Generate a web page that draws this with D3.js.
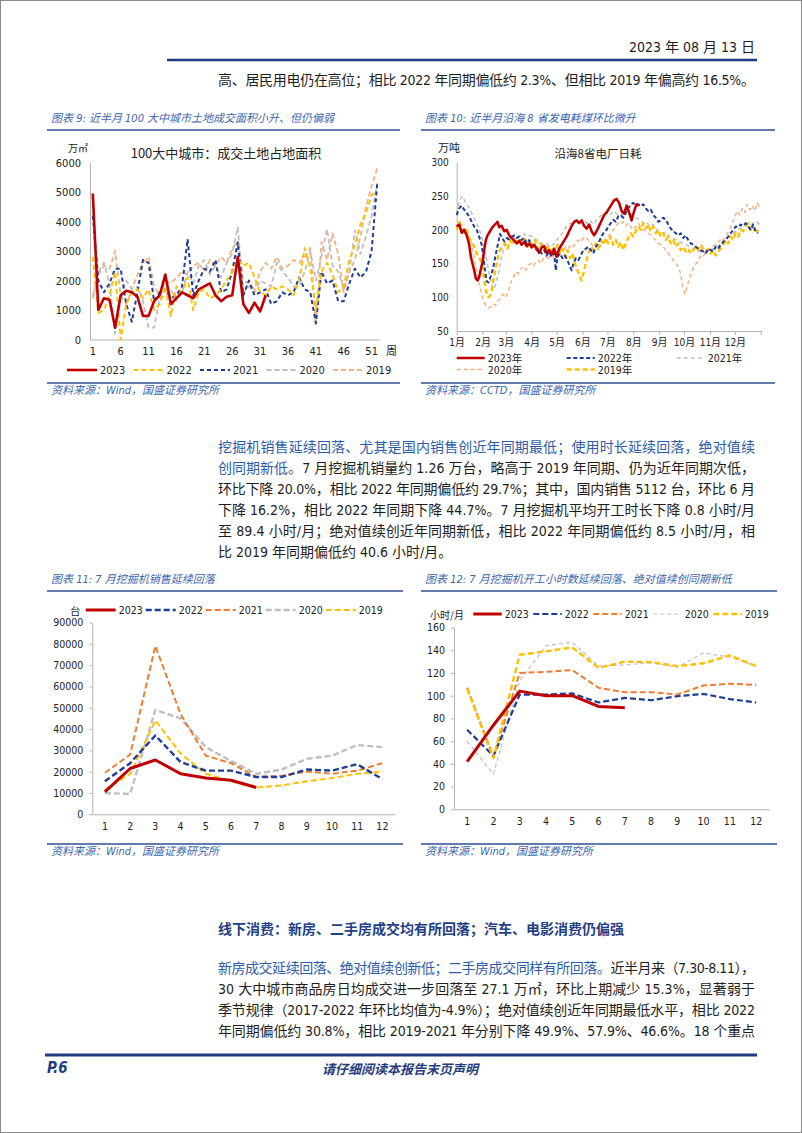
<!DOCTYPE html>
<html><head><meta charset="utf-8">
<script src="https://cdn.jsdelivr.net/npm/d3@7"></script>
<style>
body{margin:0;background:#fff;}
#page{position:relative;width:802px;height:1133px;overflow:hidden;background:#fff;}
#svg{position:absolute;left:0;top:0;}
.ln{position:absolute;height:21px;line-height:21px;font-size:14px;color:#1e1e1e;white-space:nowrap;
  font-family:"DejaVu Sans Condensed","Liberation Sans","Noto Sans CJK SC",sans-serif;}
.hl{color:#2f5ca8;}
</style></head>
<body><div id="page"><svg id="svg" width="802" height="1133"></svg></div>
<script>
// ===================== DATA =====================
// Chart 9: 100 large/medium cities land transaction area (万㎡), weekly
const weeks = d3.range(1, 53);
const weekTicks = [1,6,11,16,21,26,31,36,41,46,51];
const land2023 = [4950,1000,1400,1350,400,1500,1650,1600,1450,800,800,1300,1500,2200,1200,1400,1600,1500,1400,1700,1800,1900,1500,1300,1450,1500,2800,1200,900,1250,950,1500];
const land2022 = [2800,900,1000,1500,2300,0,1200,1600,1700,1400,1700,1000,1200,1800,800,1800,1600,2100,1000,1600,1700,1400,1500,1700,2000,2300,2700,2500,2600,2100,1600,1500,1800,1700,1800,1700,1500,2000,3100,2400,1000,2300,2600,2200,1600,1800,2700,3200,3900,4300,4900,5000];
const land2021 = [4200,2000,1600,1900,2400,2400,1200,600,1600,2700,2600,1300,1600,1700,1400,1500,1800,3400,1500,2000,2400,2300,2700,1600,1700,2300,3300,1500,2000,1500,1600,1700,1200,1300,1600,1500,1600,2100,1700,1600,550,2300,1900,2000,1300,1300,1900,2400,2100,2300,3000,5300];
const land2020 = [1500,2300,2600,1900,200,1500,2000,1700,1800,1300,400,400,1400,1500,1700,1300,1600,2300,1900,2500,2700,2200,2500,2100,2600,2900,3800,1600,1800,1600,2000,1900,1800,2600,2300,2100,1800,1800,2300,3000,2000,2800,3750,2500,2300,1700,2300,3700,2900,3500,4200,5300];
const land2019 = [1400,2200,2500,2400,3000,1500,1200,1700,2200,2600,2800,1800,1500,2000,1900,2100,2300,2200,2500,2600,2300,2700,2500,2800,2600,3100,3300,2000,1900,1700,2300,2600,2400,2800,2400,2500,2700,2600,2800,3100,500,3300,2700,3600,2900,1600,2300,2700,3500,4500,5200,5800];
const landTicks = [0,1000,2000,3000,4000,5000,6000];

// Chart 10: coastal 8 provinces power plant daily coal use (万吨), [day of year, value]
const monthLabels = ["1月","2月","3月","4月","5月","6月","7月","8月","9月","10月","11月","12月"];
const monthStartDays = [0,31,59,90,120,151,181,212,243,273,304,334];
const coalTicks = [50,100,150,200,250,300];
const coal2023 = [[0,205],[3,208],[6,196],[9,200],[12,192],[15,178],[17,160],[19,150],[21,140],[23,128],[25,125],[27,130],[29,142],[31,152],[33,170],[35,185],[37,192],[40,198],[43,204],[46,208],[49,212],[51,204],[54,206],[57,198],[60,200],[63,192],[66,188],[69,184],[72,180],[75,184],[78,178],[81,182],[84,176],[87,180],[90,174],[93,178],[96,172],[99,166],[102,174],[105,176],[108,166],[111,170],[114,164],[117,172],[120,160],[123,172],[126,178],[129,184],[132,190],[135,198],[138,206],[141,212],[144,214],[147,210],[150,214],[153,206],[156,202],[159,208],[162,198],[165,192],[168,198],[171,206],[174,214],[177,222],[180,226],[183,232],[186,238],[189,244],[192,246],[195,240],[198,228],[201,224],[204,236],[207,226],[210,214],[213,228],[216,238],[219,236]];
const coal2022 = [[0,222],[3,232],[6,236],[9,230],[12,225],[15,220],[18,212],[21,205],[24,200],[27,190],[30,178],[32,160],[34,140],[36,124],[38,122],[40,128],[42,135],[44,145],[46,158],[48,170],[50,182],[52,194],[54,190],[57,183],[60,188],[63,186],[66,190],[69,192],[72,188],[75,190],[78,185],[81,188],[84,180],[87,185],[90,178],[93,175],[96,170],[99,172],[102,165],[105,170],[108,162],[111,168],[114,160],[117,165],[119,140],[121,160],[124,165],[127,158],[130,162],[133,155],[136,145],[138,140],[140,150],[143,158],[146,155],[149,162],[152,170],[155,172],[158,175],[161,170],[164,165],[167,175],[170,180],[173,188],[176,195],[179,198],[182,205],[185,210],[188,215],[191,212],[194,220],[197,222],[200,218],[203,225],[206,232],[209,238],[212,240],[215,236],[218,238],[221,235],[224,238],[227,232],[230,228],[233,230],[236,222],[239,218],[242,212],[245,214],[248,218],[251,215],[254,208],[257,202],[260,198],[263,195],[266,192],[269,195],[272,188],[275,192],[278,185],[281,180],[284,178],[287,175],[290,172],[293,170],[296,168],[299,165],[302,172],[305,170],[308,168],[311,175],[314,172],[317,178],[320,182],[323,185],[326,190],[329,195],[332,200],[335,205],[338,204],[341,208],[344,206],[347,210],[350,205],[353,200],[356,208],[359,198],[362,195]];
const coal2021 = [[0,225],[4,245],[7,250],[10,242],[14,235],[18,225],[22,215],[26,205],[30,190],[33,175],[36,155],[39,135],[42,118],[45,112],[48,125],[51,140],[54,160],[57,175],[60,185],[64,190],[68,188],[72,192],[76,190],[80,195],[84,190],[88,192],[92,188],[96,185],[100,182],[104,178],[108,180],[112,175],[116,178],[120,185],[124,190],[128,198],[132,205],[136,210],[140,208],[144,214],[148,212],[152,216],[156,210],[160,214],[164,208],[168,215],[172,220],[176,224],[180,226],[184,222],[188,228],[192,224],[196,220],[200,226],[204,230],[208,225],[212,220],[216,218],[220,215],[224,210],[228,212],[232,205],[236,208],[240,200],[244,198],[248,195],[252,196],[256,190],[260,188],[264,185],[268,182],[272,180],[276,178],[280,175],[284,172],[288,170],[292,168],[296,165],[300,168],[304,170],[308,172],[312,175],[316,178],[320,182],[324,188],[328,192],[332,195],[336,200],[340,202],[344,205],[348,208],[352,206],[356,210],[360,212],[364,208]];
const coal2020 = [[0,200],[4,210],[8,205],[12,195],[16,185],[20,165],[23,145],[26,125],[29,110],[32,95],[35,88],[38,84],[41,86],[44,90],[47,88],[50,95],[53,100],[56,105],[59,100],[62,110],[65,122],[68,130],[71,138],[74,135],[77,142],[80,145],[83,140],[86,148],[89,150],[92,146],[95,152],[98,155],[101,150],[104,158],[107,162],[110,155],[113,165],[116,160],[119,168],[122,165],[125,170],[128,168],[131,175],[134,172],[137,178],[140,175],[143,180],[146,185],[149,182],[152,188],[155,190],[158,185],[161,180],[164,175],[167,178],[170,172],[173,176],[176,182],[179,185],[182,190],[185,195],[188,200],[191,205],[194,210],[197,208],[200,212],[203,206],[206,210],[209,204],[212,200],[215,205],[218,210],[221,205],[224,200],[227,198],[230,195],[233,192],[236,188],[239,185],[242,180],[245,178],[248,175],[251,170],[254,165],[257,160],[260,155],[263,150],[266,145],[269,135],[271,118],[274,105],[277,118],[280,130],[283,140],[286,148],[289,152],[292,160],[295,158],[298,165],[301,168],[304,170],[307,175],[310,178],[313,180],[316,185],[319,182],[322,190],[325,195],[328,200],[331,210],[334,220],[337,228],[340,222],[343,232],[346,226],[349,238],[352,230],[355,236],[358,228],[361,240],[364,232]];
const coal2019 = [[0,200],[3,212],[6,205],[9,195],[12,200],[15,188],[18,182],[21,175],[24,165],[27,160],[30,150],[32,135],[34,118],[36,105],[38,100],[40,102],[42,110],[44,125],[46,138],[48,150],[50,162],[52,170],[55,175],[58,180],[61,172],[64,185],[67,178],[70,188],[73,180],[76,185],[79,178],[82,186],[85,175],[88,182],[91,178],[94,185],[97,172],[100,180],[103,175],[106,170],[109,178],[112,165],[115,175],[118,168],[121,178],[124,165],[127,172],[130,160],[133,170],[136,158],[139,165],[142,150],[145,140],[148,130],[150,125],[152,135],[155,150],[158,165],[161,175],[164,170],[167,180],[170,172],[173,185],[176,178],[179,188],[182,180],[185,190],[188,178],[191,185],[194,175],[197,182],[200,170],[203,180],[206,188],[209,195],[212,190],[215,198],[218,205],[221,200],[224,210],[227,202],[230,208],[233,198],[236,205],[239,195],[242,200],[245,190],[248,195],[251,185],[254,190],[257,180],[260,185],[263,175],[266,180],[269,170],[272,175],[275,168],[278,172],[281,165],[284,170],[287,175],[290,170],[293,178],[296,172],[299,168],[302,172],[305,165],[308,170],[311,162],[314,168],[317,172],[320,178],[323,185],[326,180],[329,190],[332,185],[335,195],[338,190],[341,200],[344,198],[347,205],[350,210],[353,200],[356,205],[359,195],[362,200]];

// Chart 11: excavator sales (台), monthly
const months = [1,2,3,4,5,6,7,8,9,10,11,12];
const salesTicks = [0,10000,20000,30000,40000,50000,60000,70000,80000,90000];
const sales2023 = [10500,21500,25500,19000,17000,16000,12600];
const sales2022 = [15500,24000,37000,24500,20500,20500,17500,17500,21000,20500,23500,16500];
const sales2021 = [19500,28000,79000,47000,27500,24000,17500,18000,20000,19000,20500,24000];
const sales2020 = [10000,9500,49000,45000,31500,25000,19000,21000,26000,27500,32500,31500];
const sales2019 = [11500,19000,44000,28500,19000,15500,12500,13500,15500,17000,19000,20000];

// Chart 12: excavator working hours (小时/月), monthly
const hoursTicks = [0,20,40,60,80,100,120,140,160];
const hours2023 = [42,74,104,100,100,90.5,89.4];
const hours2022 = [70,47,101,101,102,94,98,96,99.5,101.5,97,94];
const hours2021 = [107,46,120,121,122.5,107,103,103,101,109,110.5,109.5];
const hours2020 = [60,31,113,144,147,126,127,129,125,137.5,134,126];
const hours2019 = [106,45,136,139,142.5,124.5,130,129.5,126,128.5,135.5,126];

// ===================== TEXT =====================
const headerDate = "2023 年 08 月 13 日";
const introLines = [[["高、居民用电仍在高位；相比 2022 年同期偏低约 2.3%、但相比 2019 年偏高约 16.5%。",0]]];
const para2 = [
 [["挖掘机销售延续回落、尤其是国内销售创近年同期最低；使用时长延续回落，绝对值续",1]],
 [["创同期新低。",1],["7 月挖掘机销量约 1.26 万台，略高于 2019 年同期、仍为近年同期次低，",0]],
 [["环比下降 20.0%，相比 2022 年同期偏低约 29.7%；其中，国内销售 5112 台，环比 6 月",0]],
 [["下降 16.2%，相比 2022 年同期下降 44.7%。7 月挖掘机平均开工时长下降 0.8 小时/月",0]],
 [["至 89.4 小时/月；绝对值续创近年同期新低，相比 2022 年同期偏低约 8.5 小时/月，相",0]],
 [["比 2019 年同期偏低约 40.6 小时/月。",0]]
];
const heading = "线下消费：新房、二手房成交均有所回落；汽车、电影消费仍偏强";
const para3 = [
 [["新房成交延续回落、绝对值续创新低；二手房成交同样有所回落。",1],["近半月来（7.30-8.11），",0]],
 [["30 大中城市商品房日均成交进一步回落至 27.1 万㎡，环比上期减少 15.3%，显著弱于",0]],
 [["季节规律（2017-2022 年环比均值为-4.9%）；绝对值续创近年同期最低水平，相比 2022",0]],
 [["年同期偏低约 30.8%，相比 2019-2021 年分别下降 49.9%、57.9%、46.6%。18 个重点",0]]
];

// ===================== RENDER =====================
const FONT_NUM = '"DejaVu Sans Condensed","Liberation Sans","Noto Sans CJK SC",sans-serif';
const FONT_CJK = '"Noto Sans CJK SC",sans-serif';
const NAVY = '#1f3d7e';
const TBLUE = '#3b66b0';
const COL = {red:'#c00000', gold:'#ffc000', navy:'#1f3c96', gray:'#bfbfbf', salmon:'#f4b183', orange:'#ed7d31'};
const fmtInt = d3.format('d');

const svg = d3.select('#svg');
svg.append('rect').attr('x',0.5).attr('y',0.5).attr('width',801).attr('height',1132)
  .attr('fill','none').attr('stroke','#8a8a8a');

// header rule & footer
svg.append('line').attr('x1',167).attr('x2',757).attr('y1',60).attr('y2',60).attr('stroke',NAVY).attr('stroke-width',2.5);
svg.append('line').attr('x1',45).attr('x2',757).attr('y1',1055).attr('y2',1055).attr('stroke',NAVY).attr('stroke-width',3);
svg.append('text').attr('x',47).attr('y',1068).attr('dominant-baseline','central')
  .attr('font-family',FONT_NUM).attr('font-weight','bold').attr('font-style','italic').attr('font-size',15)
  .attr('fill',NAVY).text('P.6');
svg.append('text').attr('x',400).attr('y',1068).attr('dominant-baseline','central').attr('text-anchor','middle')
  .attr('font-family',FONT_CJK).attr('font-weight','bold').attr('font-style','italic').attr('font-size',13)
  .attr('fill',NAVY).text('请仔细阅读本报告末页声明');

function chrome(x1, x2, title, source, titleY, ruleY, srcY){
  svg.append('text').attr('x',x1+4).attr('y',titleY).attr('dominant-baseline','central')
    .attr('font-family',FONT_NUM).attr('font-style','italic').attr('font-size',11).attr('fill',TBLUE).text(title);
  svg.append('line').attr('x1',x1).attr('x2',x2).attr('y1',ruleY).attr('y2',ruleY).attr('stroke','#2e4f91').attr('stroke-width',1.5);
  svg.append('line').attr('x1',x1).attr('x2',x2).attr('y1',srcY).attr('y2',srcY).attr('stroke','#2e4f91').attr('stroke-width',1.5);
  svg.append('text').attr('x',x1+4).attr('y',srcY+7).attr('dominant-baseline','central')
    .attr('font-family',FONT_NUM).attr('font-style','italic').attr('font-size',11).attr('fill',TBLUE).text(source);
}
function styleAxis(sel, fs){
  sel.select('.domain').attr('stroke','#b3b3b3');
  sel.selectAll('.tick line').attr('stroke','#b3b3b3');
  sel.selectAll('.tick text').attr('font-family',FONT_NUM).attr('font-size',fs).attr('fill','#222');
}
function plainText(x,y,t,fs,anchor,fam){
  return svg.append('text').attr('x',x).attr('y',y).attr('dominant-baseline','central')
    .attr('text-anchor',anchor||'start').attr('font-family',fam||FONT_NUM).attr('font-size',fs).attr('fill','#222').text(t);
}
function legendItem(x,y,len,s,fs){
  svg.append('line').attr('x1',x).attr('x2',x+len).attr('y1',y).attr('y2',y)
    .attr('stroke',s.color).attr('stroke-width',s.w).attr('stroke-dasharray',s.dash||null);
  plainText(x+len+3,y,s.label,fs);
}

// ---------- Chart 9 ----------
chrome(47,400,'图表 9:  近半月 100 大中城市土地成交面积小升、但仍偏弱','资料来源：Wind，国盛证券研究所',118,130,383);
{
  const x = d3.scaleBand().domain(weeks).range([90,380]);
  const xc = w => x(w) + x.bandwidth()/2;
  const y = d3.scaleLinear().domain([0,6000]).range([339.5,162.5]);
  styleAxis(svg.append('g').attr('transform','translate(90,0)')
    .call(d3.axisLeft(y).tickValues(landTicks).tickFormat(fmtInt).tickSize(0).tickPadding(9)), 11);
  styleAxis(svg.append('g').attr('transform','translate(0,339.5)')
    .call(d3.axisBottom(x).tickValues(weekTicks).tickSize(0).tickPadding(8)), 11);
  plainText(386,350,'周',11,'start',FONT_CJK);
  plainText(68,147,'万㎡',10,'start',FONT_CJK);
  plainText(226,152,'100大中城市：成交土地占地面积',13,'middle',FONT_CJK);
  const series = [
    {label:'2019',data:land2019,color:COL.salmon,w:1.8,dash:'5,3'},
    {label:'2020',data:land2020,color:COL.gray,w:1.8,dash:'5,3'},
    {label:'2021',data:land2021,color:COL.navy,w:2,dash:'4,3'},
    {label:'2022',data:land2022,color:COL.gold,w:2,dash:'5,3'},
    {label:'2023',data:land2023,color:COL.red,w:2.6,dash:null}
  ];
  const line = d3.line().x((d,i)=>xc(weeks[i])).y(d=>y(d));
  series.forEach(s=>svg.append('path').attr('d',line(s.data)).attr('fill','none')
    .attr('stroke',s.color).attr('stroke-width',s.w).attr('stroke-dasharray',s.dash).attr('stroke-linejoin','round'));
  series.slice().reverse().forEach((s,i)=>legendItem(67+i*66.5,370,30,s,11));
}

// ---------- Chart 10 ----------
chrome(421,775,'图表 10:  近半月沿海 8 省发电耗煤环比微升','资料来源：CCTD，国盛证券研究所',118,130,383);
{
  const x = d3.scaleLinear().domain([0,365]).range([456.7,760.7]);
  const y = d3.scaleLinear().domain([50,300]).range([331,162.5]);
  styleAxis(svg.append('g').attr('transform','translate(456.7,0)')
    .call(d3.axisLeft(y).tickValues(coalTicks).tickFormat(fmtInt).tickSize(0).tickPadding(8)), 10);
  const xa = svg.append('g').attr('transform','translate(0,331)')
    .call(d3.axisBottom(x).tickValues(monthStartDays.concat([365])).tickSize(4).tickSizeOuter(0).tickPadding(4)
      .tickFormat((d,i)=>monthLabels[i]||''));
  styleAxis(xa,10);
  plainText(438,147,'万吨',11,'start',FONT_CJK);
  plainText(598,153,'沿海8省电厂日耗',11.5,'middle',FONT_CJK);
  const series = [
    {label:'2020年',data:coal2020,color:COL.salmon,w:1.5,dash:'4,3'},
    {label:'2021年',data:coal2021,color:COL.gray,w:1.5,dash:'4,3'},
    {label:'2019年',data:coal2019,color:COL.gold,w:2.4,dash:'5,3'},
    {label:'2022年',data:coal2022,color:COL.navy,w:2,dash:'4,2.5'},
    {label:'2023年',data:coal2023,color:COL.red,w:2.5,dash:null}
  ];
  const line = d3.line().x(d=>x(d[0])).y(d=>y(d[1]));
  series.forEach(s=>svg.append('path').attr('d',line(s.data)).attr('fill','none')
    .attr('stroke',s.color).attr('stroke-width',s.w).attr('stroke-dasharray',s.dash).attr('stroke-linejoin','round'));
  const order = ['2023年','2022年','2021年','2020年','2019年'];
  order.forEach((lab,i)=>{
    const s = series.find(t=>t.label===lab);
    legendItem(456.7+(i%3)*110, 358+Math.floor(i/3)*11.5, 28, s, 10.5);
  });
}

// ---------- Chart 11 ----------
chrome(47,403,'图表 11:  7 月挖掘机销售延续回落','资料来源：Wind，国盛证券研究所',579,591,844);
{
  const x = d3.scaleBand().domain(months).range([92.3,395]);
  const xc = m => x(m) + x.bandwidth()/2;
  const y = d3.scaleLinear().domain([0,90000]).range([814.3,622.5]);
  styleAxis(svg.append('g').attr('transform','translate(92.3,0)')
    .call(d3.axisLeft(y).tickValues(salesTicks).tickFormat(fmtInt).tickSize(3).tickSizeOuter(0).tickPadding(6)), 10.5);
  styleAxis(svg.append('g').attr('transform','translate(0,814.3)')
    .call(d3.axisBottom(x).tickSize(0).tickPadding(8)), 10.5);
  plainText(70,610,'台',10.5,'start',FONT_CJK);
  const series = [
    {label:'2020',data:sales2020,color:COL.gray,w:2.4,dash:'6,3'},
    {label:'2021',data:sales2021,color:COL.orange,w:2,dash:'6,3'},
    {label:'2019',data:sales2019,color:COL.gold,w:2,dash:'6,3'},
    {label:'2022',data:sales2022,color:COL.navy,w:2.4,dash:'6,3'},
    {label:'2023',data:sales2023,color:COL.red,w:3,dash:null}
  ];
  const line = d3.line().x((d,i)=>xc(months[i])).y(d=>y(d));
  series.forEach(s=>svg.append('path').attr('d',line(s.data)).attr('fill','none')
    .attr('stroke',s.color).attr('stroke-width',s.w).attr('stroke-dasharray',s.dash).attr('stroke-linejoin','round'));
  ['2023','2022','2021','2020','2019'].forEach((lab,i)=>
    legendItem(85.7+i*60,610,30,series.find(t=>t.label===lab),10.5));
}

// ---------- Chart 12 ----------
chrome(421,777,'图表 12:  7 月挖掘机开工小时数延续回落、绝对值续创同期新低','资料来源：Wind，国盛证券研究所',579,591,844);
{
  const x = d3.scaleBand().domain(months).range([454,769.3]);
  const xc = m => x(m) + x.bandwidth()/2;
  const y = d3.scaleLinear().domain([0,160]).range([809.3,627.5]);
  styleAxis(svg.append('g').attr('transform','translate(454,0)')
    .call(d3.axisLeft(y).tickValues(hoursTicks).tickFormat(fmtInt).tickSize(3).tickSizeOuter(0).tickPadding(6)), 10.5);
  styleAxis(svg.append('g').attr('transform','translate(0,809.3)')
    .call(d3.axisBottom(x).tickSize(0).tickPadding(8)), 10.5);
  plainText(430,614,'小时/月',10,'start',FONT_CJK);
  const series = [
    {label:'2020',data:hours2020,color:COL.gray,w:1.2,dash:'4,3'},
    {label:'2021',data:hours2021,color:COL.orange,w:2,dash:'6,3'},
    {label:'2022',data:hours2022,color:COL.navy,w:2.2,dash:'6,3'},
    {label:'2019',data:hours2019,color:COL.gold,w:2.4,dash:'6,3'},
    {label:'2023',data:hours2023,color:COL.red,w:3,dash:null}
  ];
  const line = d3.line().x((d,i)=>xc(months[i])).y(d=>y(d));
  series.forEach(s=>svg.append('path').attr('d',line(s.data)).attr('fill','none')
    .attr('stroke',s.color).attr('stroke-width',s.w).attr('stroke-dasharray',s.dash).attr('stroke-linejoin','round'));
  ['2023','2022','2021','2020','2019'].forEach((lab,i)=>
    legendItem(473.3+i*60,614,28.4,series.find(t=>t.label===lab),10.5));
}

// ---------- HTML text ----------
const page = d3.select('#page');
function textLine(parts, left, cy, width, opts){
  opts = opts||{};
  const div = page.append('div').attr('class','ln').style('left',left+'px').style('top',(cy-10.5)+'px');
  if(opts.bold) div.style('font-weight','bold');
  if(opts.color) div.style('color',opts.color);
  const outer = div.append('span');
  parts.forEach(p=>outer.append('span').attr('class',p[1]?'hl':null).text(p[0]));
  if(width){
    const node = outer.node();
    const w = node.getBoundingClientRect().width;
    const n = node.textContent.length;
    outer.style('letter-spacing',((width-w)/(n-1))+'px');
  }
  return div;
}
// header date, right aligned at 755
{
  const d = textLine([[headerDate,0]],0,47,null);
  const w = d.node().getBoundingClientRect().width;
  d.style('left',(755-w)+'px');
}
introLines.forEach((l,i)=>textLine(l,218,80+i*21,537));
para2.forEach((l,i)=>textLine(l,218,447+i*21,i<para2.length-1?537:null));
textLine([[heading,0]],218,929,null,{bold:true,color:'#1f3f86'});
para3.forEach((l,i)=>textLine(l,218,968+i*21,537));
</script>
</body></html>
